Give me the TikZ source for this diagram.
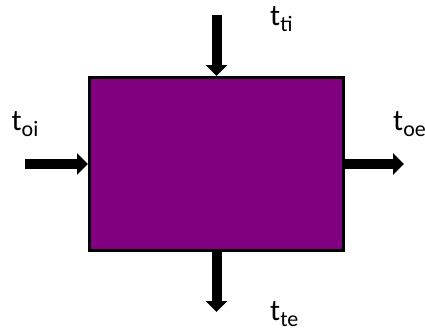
\documentclass[tikz,border=0pt]{standalone}
\usepackage{fontspec}
\setmainfont{Carlito}
\usetikzlibrary{arrows.meta}
\definecolor{boxpurple}{HTML}{800080}
\newcommand{\lbl}[2]{#1{\fontsize{22pt}{22pt}\selectfont\raisebox{-6pt}{#2}}}
\begin{document}
\begin{tikzpicture}[x=1pt,y=-1pt,
  flow/.style={line width=10pt,-{Triangle[width=21pt 0 0,length=11pt 0 0]}},
  lab/.style={anchor=base west,inner sep=0pt,font=\fontsize{30pt}{30pt}\selectfont}]
\useasboundingbox (0,0) rectangle (425,332);
\node[draw=black,line width=3pt,fill=boxpurple,minimum width=254pt,minimum height=173pt,inner sep=0pt] (box) at (216.5,164) {};
\coordinate (ti) at (216.5,15);
\coordinate (oi) at (25,164);
\coordinate (oe) at (404,164);
\coordinate (te) at (216.5,312);
\draw[flow] (ti) -- (box.north);
\draw[flow] (oi) -- (box.west);
\draw[flow] (box.east) -- (oe);
\draw[flow] (box.south) -- (te);
\node[lab] (lti) at (270,25) {\lbl{t}{ti}};
\node[lab] (loi) at (11.5,130) {\lbl{t}{oi}};
\node[lab] (loe) at (393,130) {\lbl{t}{oe}};
\node[lab] (lte) at (270,320) {\lbl{t}{te}};
\end{tikzpicture}
\end{document}
